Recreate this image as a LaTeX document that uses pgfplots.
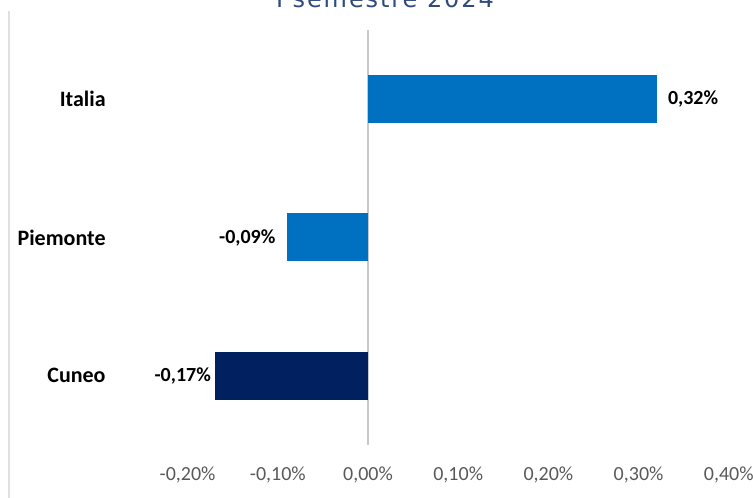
\documentclass[border=0pt]{standalone}
\usepackage{pgfplots}
\pgfplotsset{compat=1.18}
\usepackage{fontspec}
\setmainfont{Carlito}
\newfontfamily\titlefont[LetterSpace=8]{DejaVu Sans}
\definecolor{blu}{HTML}{0070C0}
\definecolor{navy}{HTML}{002060}
\definecolor{ticktxt}{HTML}{595959}
\definecolor{titleblue}{HTML}{2F4B7C}
\definecolor{zeroline}{HTML}{C8C8C8}
\definecolor{frameline}{HTML}{E0E0E0}
\begin{document}
\begin{tikzpicture}
\begin{axis}[
  x=451pt, y=69.165pt,
  xmin=-0.2, xmax=0.4, ymin=-0.5, ymax=2.5,
  axis line style={draw=none},
  ytick=\empty,
  xtick={-0.2,-0.1,0,0.1,0.2,0.3,0.4},
  xticklabels={{-0,20\%},{-0,10\%},{0,00\%},{0,10\%},{0,20\%},{0,30\%},{0,40\%}},
  major tick length=0pt,
  xticklabel style={font=\fontsize{10}{12}\selectfont, text=ticktxt, yshift=-7.5pt},
  xbar, bar width=24pt, bar shift=0pt,
  clip=false,
  nodes near coords align=horizontal,
  every node near coord/.append style={inner sep=0pt, font=\fontsize{10}{12}\selectfont\bfseries, text=black},
]
\draw[zeroline, line width=0.75pt] (axis cs:0,-0.5) -- (axis cs:0,2.5);
\addplot[fill=blu, draw=none, nodes near coords={0,32\%},
  every node near coord/.append style={anchor=west, xshift=5.5pt}] coordinates {(0.32,2)};
\addplot[fill=blu, draw=none, nodes near coords={-0,09\%},
  every node near coord/.append style={anchor=east, xshift=-5.5pt}] coordinates {(-0.09,1)};
\addplot[fill=navy, draw=none, nodes near coords={-0,17\%},
  every node near coord/.append style={anchor=east, xshift=-1.7pt}] coordinates {(-0.17,0)};
\node[anchor=east, inner sep=0pt, font=\fontsize{11}{13}\selectfont\bfseries] at (axis cs:-0.2905,2) {Italia};
\node[anchor=east, inner sep=0pt, font=\fontsize{11}{13}\selectfont\bfseries] at (axis cs:-0.2905,1) {Piemonte};
\node[anchor=east, inner sep=0pt, font=\fontsize{11}{13}\selectfont\bfseries] at (axis cs:-0.2905,0) {Cuneo};
\node[anchor=base, inner sep=0pt, text=titleblue, font=\titlefont\fontsize{12}{14}\selectfont] at (axis cs:0.0188,2.666) {I semestre 2024};
\draw[frameline, line width=0.6pt] (axis cs:-0.398,2.637) -- (axis cs:-0.398,-0.883);
\coordinate (bl) at (axis cs:-0.40798,-0.8831);
\coordinate (tr) at (axis cs:0.42683,2.7169);
\end{axis}
\pgfresetboundingbox
\path[use as bounding box] (bl) rectangle (tr);
\end{tikzpicture}
\end{document}
